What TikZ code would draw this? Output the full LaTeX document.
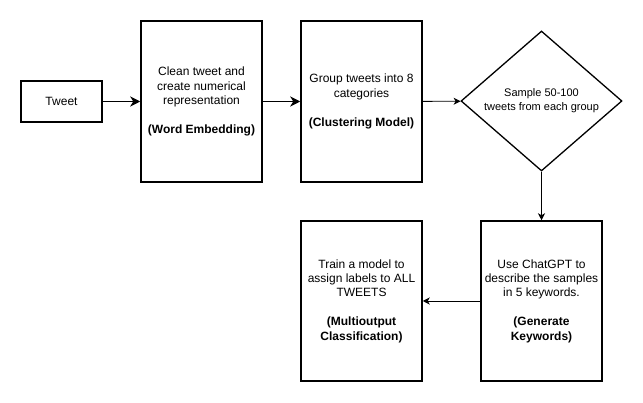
\documentclass[tikz,border=0pt]{standalone}
\usepackage{fontspec}
\setmainfont{Liberation Sans}
\usetikzlibrary{arrows.meta,shapes.geometric}
\begin{document}
\begin{tikzpicture}[x=1pt,y=-1pt,
  box/.style={draw, line width=1.5pt, minimum width=121pt, minimum height=161pt,
    inner sep=0pt, align=center, font=\fontsize{12}{14.4}\selectfont},
  decision/.style={draw, diamond, line width=1.3pt, minimum width=161pt, minimum height=140pt,
    inner sep=0pt, align=center, font=\fontsize{11}{14}\selectfont},
  thickarrow/.style={line width=1.8pt, -{Stealth[length=10pt,width=10pt,inset=3pt]}},
  thinarrow/.style={line width=0.9pt, -{Stealth[length=7pt,width=7pt,inset=2pt]}}]
\useasboundingbox (0,0) rectangle (643,403);
\node[box, minimum width=81pt, minimum height=41pt] (tweet) at (61.5,101.5) {Tweet};
\node[box] (embed) at (201.5,101.5) {Clean tweet and\\create numerical\\representation\\[14.4pt]\textbf{(Word Embedding)}};
\node[box] (cluster) at (361.5,101.5) {Group tweets into 8\\categories\\[14.4pt]\textbf{(Clustering Model)}};
\node[decision] (sample) at (541.5,101) {Sample 50-100\\tweets from each group};
\node[box, minimum height=160pt] (keywords) at (541.5,301) {Use ChatGPT to\\describe the samples\\in 5 keywords.\\[14.4pt]\textbf{(Generate}\\\textbf{Keywords)}};
\node[box, minimum height=160pt] (train) at (361.5,301) {Train a model to\\assign labels to ALL\\TWEETS\\[14.4pt]\textbf{(Multioutput}\\\textbf{Classification)}};
\draw[thickarrow] (tweet) -- (embed);
\draw[thickarrow] (embed) -- (cluster);
\draw[thinarrow] (cluster) -- (sample);
\draw[thinarrow] (sample) -- (keywords);
\draw[thinarrow] (keywords) -- (train);
\end{tikzpicture}
\end{document}
